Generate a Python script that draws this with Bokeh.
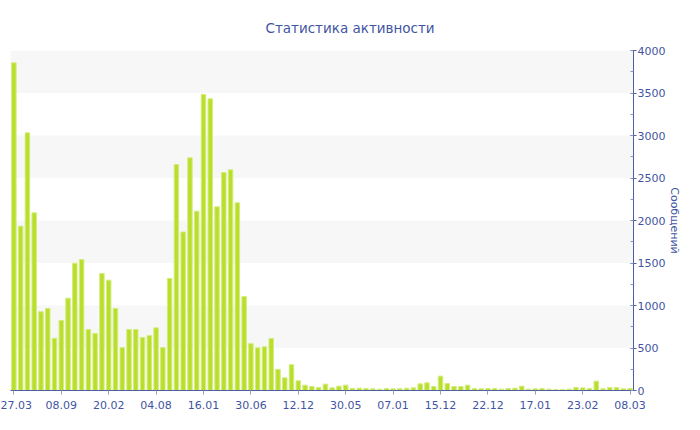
from bokeh.plotting import figure
from bokeh.models import SingleIntervalTicker, Range1d
from bokeh.embed import file_html
from bokeh.resources import INLINE

# Messages per period
values = [
    3855, 1933, 3031, 2090, 926, 965, 615, 824, 1086, 1498,
    1541, 718, 671, 1376, 1298, 965, 506, 718, 718, 624,
    647, 737, 506, 1318, 2659, 1865, 2737, 2110, 3482, 3431,
    2161, 2565, 2596, 2208, 1106, 551, 502, 514, 612, 249,
    149, 304, 114, 63, 47, 35, 75, 31, 51, 63,
    24, 27, 24, 20, 16, 24, 20, 20, 27, 31,
    78, 90, 47, 169, 82, 47, 47, 63, 24, 20,
    24, 24, 16, 24, 27, 51, 16, 20, 24, 16,
    12, 12, 16, 35, 31, 24, 110, 20, 35, 35,
    20, 24,
]
tick_labels = ["27.03", "08.09", "20.02", "04.08", "16.01", "30.06", "12.12",
               "30.05", "07.01", "15.12", "22.12", "17.01", "23.02", "08.03"]
label_step = 7
title_text = "Статистика активности"
y_title = "Сообщений"

TXT = "#3f55a3"
AXIS = "#4d5fa3"
FONT = "DejaVu Sans"

x = list(range(len(values)))

p = figure(width=684, height=414, output_backend="svg", toolbar_location=None,
           x_range=Range1d(-0.5, len(values) - 0.5), y_range=Range1d(0, 4000),
           y_axis_location="right",
           min_border_left=10, min_border_right=0, min_border_top=50, min_border_bottom=24)

p.title.text = title_text
p.title.align = "left"
p.title.offset = 255
p.title.standoff = 29
p.title.text_color = TXT
p.title.text_font = FONT
p.title.text_font_size = "13.5px"
p.title.text_font_style = "normal"

p.vbar(x=x, top=values, width=0.66, fill_color="#b9df2c", line_color="#d3ec7c", line_width=1)

p.outline_line_color = None
p.background_fill_color = "white"
p.xgrid.grid_line_color = None
p.ygrid.grid_line_color = None
p.ygrid.band_fill_color = "#f7f7f7"
p.ygrid.band_fill_alpha = 1

xa = p.xaxis[0]
xa.ticker = SingleIntervalTicker(interval=label_step, num_minor_ticks=0)
xa.major_label_overrides = {i * label_step: lab for i, lab in enumerate(tick_labels)}
xa.axis_line_color = AXIS
xa.major_tick_line_color = "#9aa0b8"
xa.major_tick_in = 0
xa.major_tick_out = 4
xa.minor_tick_line_color = None
xa.major_label_text_color = TXT
xa.major_label_text_font = FONT
xa.major_label_text_font_size = "11px"
xa.major_label_standoff = 6

ya = p.yaxis[0]
ya.ticker = SingleIntervalTicker(interval=500, num_minor_ticks=2)
ya.axis_line_color = AXIS
ya.major_tick_line_color = AXIS
ya.major_tick_in = 3
ya.major_tick_out = 3
ya.minor_tick_line_color = "#8a95c0"
ya.minor_tick_in = 3
ya.minor_tick_out = 0
ya.major_label_text_color = TXT
ya.major_label_text_font = FONT
ya.major_label_text_font_size = "11px"
ya.major_label_standoff = 1
ya.axis_label = y_title
ya.axis_label_text_color = TXT
ya.axis_label_text_font = FONT
ya.axis_label_text_font_size = "11px"
ya.axis_label_text_font_style = "normal"
ya.axis_label_standoff = 0

open("out.html", "w").write(file_html(p, INLINE))
